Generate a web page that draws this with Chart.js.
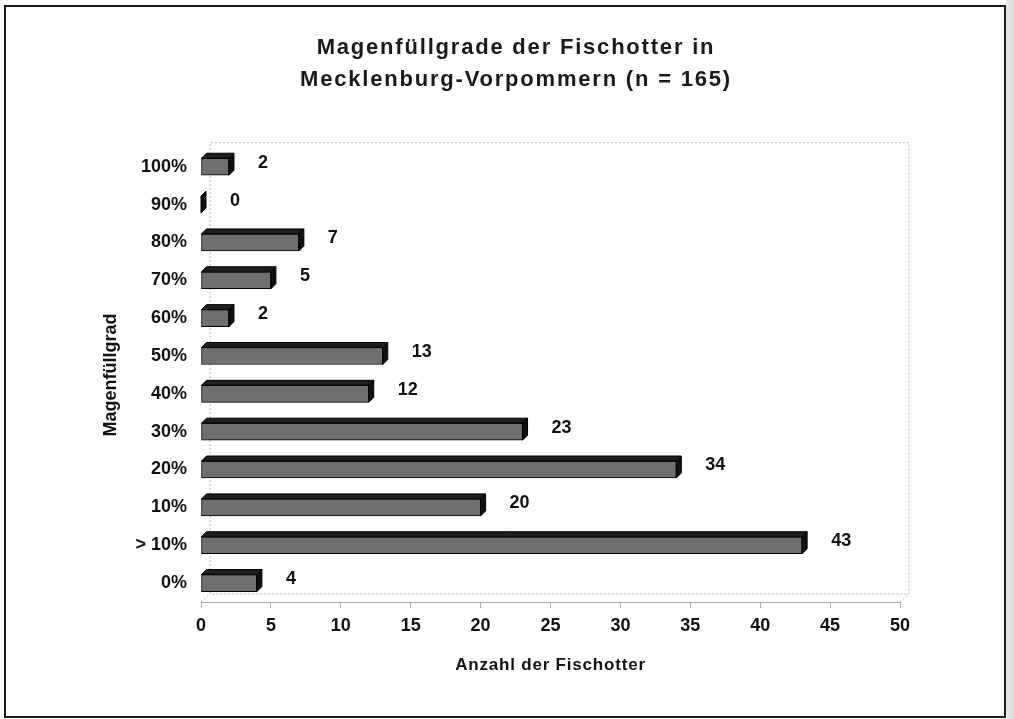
<!DOCTYPE html>
<html>
<head>
<meta charset="utf-8">
<script src="https://cdn.jsdelivr.net/npm/chart.js@4/dist/chart.umd.min.js"></script>
<style>
  html, body { margin: 0; padding: 0; background: #ffffff; }
  #wrap { position: relative; width: 1014px; height: 719px; overflow: hidden; }
  #c { position: absolute; left: 0; top: 0; }
  #frame { position: absolute; left: 4px; top: 5px; width: 998px; height: 709px;
           border: 2px solid #1a1a1a; pointer-events: none; }
  #scan { position: absolute; left: 1006px; top: 0; width: 8px; height: 719px;
          background: linear-gradient(to right, #e9e9e9, #dcdcdc); }
</style>
</head>
<body>
<div id="wrap">
  <canvas id="c" width="1014" height="719"></canvas>
  <div id="scan"></div>
  <div id="frame"></div>
</div>
<script>
// ---- data ----
const categories = ['100%', '90%', '80%', '70%', '60%', '50%', '40%', '30%', '20%', '10%', '> 10%', '0%'];
const counts = [2, 0, 7, 5, 2, 13, 12, 23, 34, 20, 43, 4];
const titleLines = ['Magenfüllgrade der Fischotter in', 'Mecklenburg-Vorpommern (n = 165)'];
const xAxisTitle = 'Anzahl der Fischotter';
const yAxisTitle = 'Magenfüllgrad';
const xMin = 0, xMax = 50, xStep = 5;

const FONT = "'Liberation Sans', Arial, Helvetica, sans-serif";
const DEPTH_X = 5, DEPTH_Y = 5;

// back wall / floor drawn from the chart area
const wallPlugin = {
  id: 'wall',
  beforeDatasetsDraw(chart) {
    const { ctx, chartArea: a } = chart;
    const dx = 9, dy = 8;
    ctx.save();
    ctx.strokeStyle = '#b5b5b5';
    ctx.lineWidth = 1;
    ctx.setLineDash([2, 2]);
    ctx.beginPath();
    ctx.moveTo(a.left + dx, a.bottom - dy);
    ctx.lineTo(a.left + dx, a.top - 5);
    ctx.lineTo(a.right + dx, a.top - 5);
    ctx.lineTo(a.right + dx, a.bottom - dy);
    ctx.lineTo(a.left + dx, a.bottom - dy);
    ctx.moveTo(a.left, a.bottom);
    ctx.lineTo(a.left + dx, a.bottom - dy);
    ctx.moveTo(a.right, a.bottom);
    ctx.lineTo(a.right + dx, a.bottom - dy);
    ctx.stroke();
    ctx.restore();
  }
};

// letter-spaced title (as in the reference)
const spacedTitlePlugin = {
  id: 'spacedTitle',
  afterLayout(chart) {
    const tb = chart.titleBlock;
    if (tb && !tb._spaced) {
      const orig = tb.draw;
      tb.draw = function (area) {
        this.ctx.save();
        this.ctx.letterSpacing = '1.8px';
        this.ctx.translate(16, 0);
        orig.call(this, area);
        this.ctx.restore();
      };
      tb._spaced = true;
    }
    const xs = chart.scales.x;
    if (xs && !xs._spaced) {
      const origX = xs.drawTitle;
      xs.drawTitle = function () {
        this.ctx.save();
        this.ctx.letterSpacing = '0.8px';
        origX.call(this);
        this.ctx.restore();
      };
      xs._spaced = true;
    }
  }
};

// 3D faces for each bar + value labels
const bar3dPlugin = {
  id: 'bar3d',
  afterDatasetsDraw(chart) {
    const { ctx } = chart;
    const meta = chart.getDatasetMeta(0);
    ctx.save();
    ctx.lineWidth = 1;
    ctx.strokeStyle = '#000';
    meta.data.forEach((el, i) => {
      const p = el.getProps(['x', 'y', 'base', 'height'], true);
      const top = p.y - p.height / 2;
      const bot = p.y + p.height / 2;
      const x0 = p.base, x1 = p.x;
      ctx.fillStyle = '#1e1e1e';
      ctx.beginPath();
      ctx.moveTo(x0, top);
      ctx.lineTo(x0 + DEPTH_X, top - DEPTH_Y);
      ctx.lineTo(x1 + DEPTH_X, top - DEPTH_Y);
      ctx.lineTo(x1, top);
      ctx.closePath();
      ctx.fill();
      ctx.stroke();
      ctx.fillStyle = '#111';
      ctx.beginPath();
      ctx.moveTo(x1, top);
      ctx.lineTo(x1 + DEPTH_X, top - DEPTH_Y);
      ctx.lineTo(x1 + DEPTH_X, bot - DEPTH_Y);
      ctx.lineTo(x1, bot);
      ctx.closePath();
      ctx.fill();
      ctx.stroke();
      ctx.fillStyle = '#111';
      ctx.font = 'bold 18px ' + FONT;
      ctx.textAlign = 'left';
      ctx.textBaseline = 'middle';
      ctx.fillText(String(counts[i]), x1 + DEPTH_X + 24, p.y - 4);
    });
    ctx.restore();
  }
};

new Chart(document.getElementById('c'), {
  type: 'bar',
  data: {
    labels: categories,
    datasets: [{
      data: counts,
      backgroundColor: '#6f6f6f',
      borderColor: '#000',
      borderWidth: 1,
      borderSkipped: false,
      barThickness: 17
    }]
  },
  options: {
    indexAxis: 'y',
    responsive: false,
    animation: false,
    devicePixelRatio: 1,
    layout: { padding: { left: 100, right: 114, top: 0, bottom: 39 } },
    plugins: {
      legend: { display: false },
      tooltip: { enabled: false },
      title: {
        display: true,
        text: titleLines,
        color: '#1a1a1a',
        font: { family: FONT, size: 22, weight: 'bold', lineHeight: 1.45 },
        padding: { top: 32, bottom: 52 }
      }
    },
    scales: {
      x: {
        min: xMin, max: xMax,
        grid: { drawOnChartArea: false, drawTicks: true, tickLength: 6, color: '#b0b0b0' },
        border: { display: true, dash: [2, 2], color: '#a8a8a8' },
        ticks: { stepSize: xStep, color: '#111', padding: 7,
                 font: { family: FONT, size: 18, weight: 'bold' } },
        title: { display: true, text: xAxisTitle, color: '#111',
                 font: { family: FONT, size: 17, weight: 'bold' },
                 padding: { top: 12, bottom: 4 } }
      },
      y: {
        grid: { display: false },
        border: { display: false },
        ticks: { color: '#111', padding: 6,
                 font: { family: FONT, size: 18, weight: 'bold' } },
        title: { display: true, text: yAxisTitle, color: '#111',
                 font: { family: FONT, size: 18, weight: 'bold' },
                 padding: { top: 0, bottom: 0 } },
        afterFit(scale) { scale.width = 101; }
      }
    }
  },
  plugins: [spacedTitlePlugin, wallPlugin, bar3dPlugin]
});
</script>
</body>
</html>
